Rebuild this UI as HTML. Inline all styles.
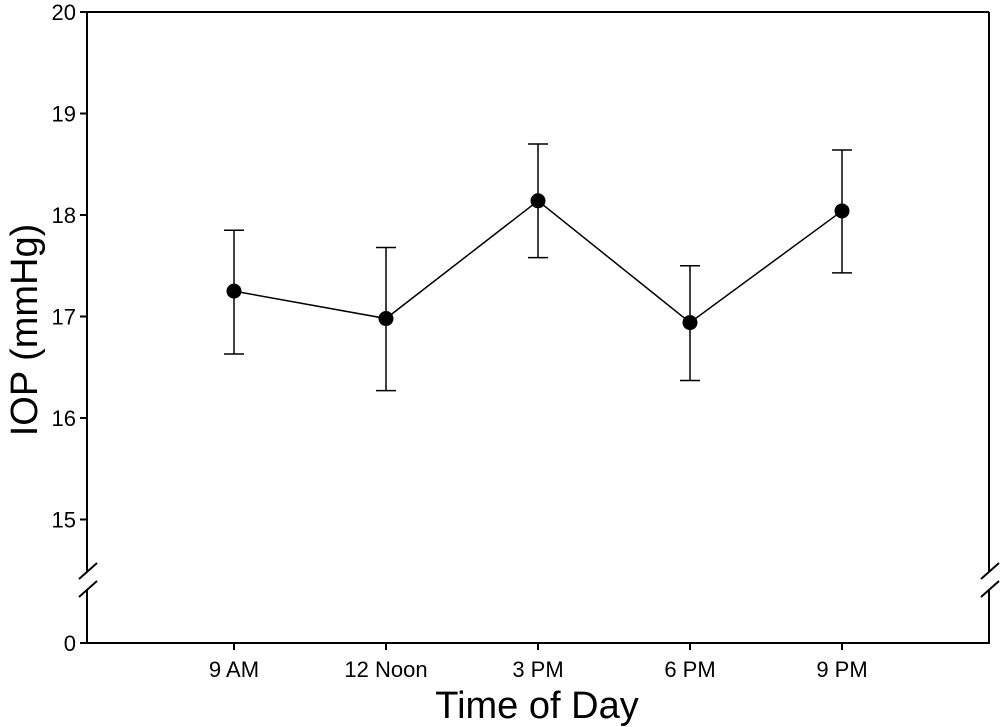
<!DOCTYPE html>
<html><head><meta charset="utf-8"><style>
body{margin:0;background:#fff;}
svg{display:block;font-family:"Liberation Sans",Arial,sans-serif;}
</style></head><body>
<svg id="chart" width="1000" height="727">
<g id="frame" stroke="#000" stroke-width="2" fill="none">
<line x1="87" y1="12" x2="989" y2="12"/>
<line x1="87" y1="12" x2="87" y2="571"/>
<line x1="87" y1="590" x2="87" y2="643"/>
<line x1="989" y1="12" x2="989" y2="571"/>
<line x1="989" y1="590" x2="989" y2="643"/>
<line x1="86" y1="643" x2="990" y2="643"/>
<line x1="79" y1="579" x2="97" y2="563"/>
<line x1="79" y1="597" x2="97" y2="581"/>
<line x1="981" y1="579" x2="999" y2="563"/>
<line x1="981" y1="597" x2="999" y2="581"/>
<line x1="80" y1="643" x2="87" y2="643"/>
</g>
<text x="76" y="651" font-size="22" text-anchor="end">0</text>
<g id="yt"></g><g id="xt"></g><g id="marks"></g>
<text x="537" y="718" font-size="38" text-anchor="middle">Time of Day</text>
<text transform="translate(37,330) rotate(-90)" font-size="38" text-anchor="middle">IOP (mmHg)</text>
</svg>
<script>
const categories=["9 AM","12 Noon","3 PM","6 PM","9 PM"];
const means=[17.25,16.98,18.14,16.94,18.04];
const upper=[17.85,17.68,18.70,17.50,18.64];
const lower=[16.63,16.27,17.58,16.37,17.43];
const yTicks=[15,16,17,18,19,20];
const NS="http://www.w3.org/2000/svg";
function y(v){return 12+(20-v)*101.5;}
function x(i){return 82+(i+1)*152;}
function mk(tag,attrs,parent){const e=document.createElementNS(NS,tag);for(const k in attrs)e.setAttribute(k,attrs[k]);parent.appendChild(e);return e;}
const yt=document.getElementById('yt'),xt=document.getElementById('xt'),m=document.getElementById('marks');
yTicks.forEach(v=>{
const l=mk('line',{x1:80,x2:87,y1:y(v),y2:y(v),stroke:'#000','stroke-width':2},yt);


const t=mk('text',{x:76,y:y(v)+8,'font-size':22,'text-anchor':'end'},yt);t.textContent=v;


});
categories.forEach((c,i)=>{
const l=mk('line',{x1:x(i),x2:x(i),y1:643,y2:650,stroke:'#000','stroke-width':2},xt);


const t=mk('text',{x:x(i),y:677,'font-size':22,'text-anchor':'middle'},xt);t.textContent=c;


});
const pts=means.map((v,i)=>x(i)+','+y(v)).join(' ');
const pl=mk('polyline',{points:pts,fill:'none',stroke:'#000','stroke-width':1.5},m);


means.forEach((v,i)=>{
const g=mk('g',{stroke:'#000','stroke-width':1.5},m);


mk('line',{x1:x(i),x2:x(i),y1:y(upper[i]),y2:y(lower[i])},g);
mk('line',{x1:x(i)-10,x2:x(i)+10,y1:y(upper[i]),y2:y(upper[i])},g);
mk('line',{x1:x(i)-10,x2:x(i)+10,y1:y(lower[i]),y2:y(lower[i])},g);
const c=mk('circle',{cx:x(i),cy:y(v),r:7.5,fill:'#000'},m);


});
</script>
</body></html>
